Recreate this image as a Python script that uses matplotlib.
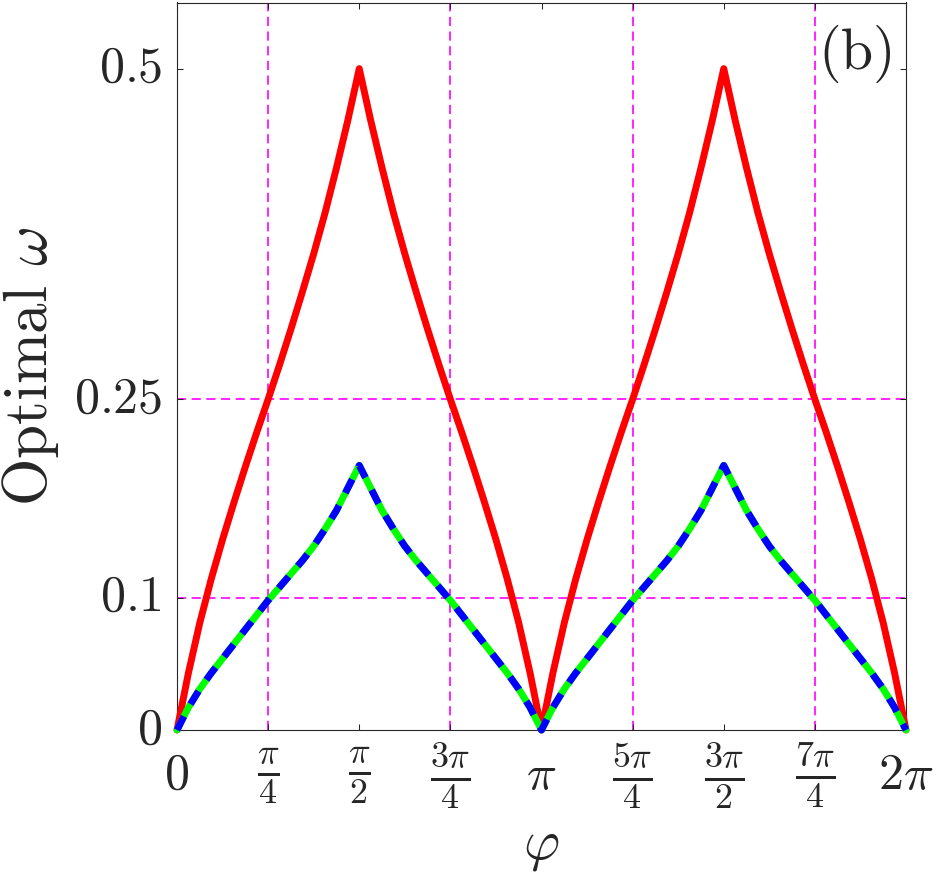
import numpy as np
import matplotlib
matplotlib.use("Agg")
import matplotlib.pyplot as plt
from matplotlib.transforms import ScaledTranslation

plt.rcParams['mathtext.fontset'] = 'cm'
plt.rcParams['font.family'] = 'serif'
plt.rcParams['font.serif'] = ['cmr10']
plt.rcParams['axes.unicode_minus'] = False
plt.rcParams['axes.formatter.use_mathtext'] = True

phi = np.linspace(0, 2 * np.pi, 65)

omega_red = [
    0.000, 0.043, 0.081, 0.114, 0.144, 0.172, 0.199, 0.225, 0.250, 0.276, 0.303, 0.331, 0.360, 0.391, 0.425, 0.461, 0.500,
    0.461, 0.425, 0.391, 0.360, 0.331, 0.303, 0.276, 0.250, 0.225, 0.199, 0.172, 0.144, 0.114, 0.081, 0.043, 0.000,
    0.043, 0.081, 0.114, 0.144, 0.172, 0.199, 0.225, 0.250, 0.276, 0.303, 0.331, 0.360, 0.391, 0.425, 0.461, 0.500,
    0.461, 0.425, 0.391, 0.360, 0.331, 0.303, 0.276, 0.250, 0.225, 0.199, 0.172, 0.144, 0.114, 0.081, 0.043, 0.000,
]

omega_blue = [
    0.000, 0.017, 0.031, 0.043, 0.054, 0.065, 0.076, 0.087, 0.098, 0.108, 0.118, 0.128, 0.139, 0.152, 0.166, 0.183, 0.200,
    0.183, 0.166, 0.152, 0.139, 0.128, 0.118, 0.108, 0.098, 0.087, 0.076, 0.065, 0.054, 0.043, 0.031, 0.017, 0.000,
    0.017, 0.031, 0.043, 0.054, 0.065, 0.076, 0.087, 0.098, 0.108, 0.118, 0.128, 0.139, 0.152, 0.166, 0.183, 0.200,
    0.183, 0.166, 0.152, 0.139, 0.128, 0.118, 0.108, 0.098, 0.087, 0.076, 0.065, 0.054, 0.043, 0.031, 0.017, 0.000,
]
omega_green = omega_blue

ref_phi = [np.pi / 4, 3 * np.pi / 4, 5 * np.pi / 4, 7 * np.pi / 4]
ref_omega = [0.1, 0.25]

xtick_vals = [k * np.pi / 4 for k in range(9)]
xtick_labels = [r'$0$', r'$\frac{\pi}{4}$', r'$\frac{\pi}{2}$', r'$\frac{3\pi}{4}$', r'$\pi$',
                r'$\frac{5\pi}{4}$', r'$\frac{3\pi}{2}$', r'$\frac{7\pi}{4}$', r'$2\pi$']
ytick_vals = [0, 0.1, 0.25, 0.5]
ytick_labels = [r'$0$', r'$0.1$', r'$0.25$', r'$0.5$']

# ---- figure ----
W, H = 936, 875
fig = plt.figure(figsize=(W / 100, H / 100), dpi=100)
ax = fig.add_axes([177 / W, 1 - 730 / H, (906 - 177) / W, (730 - 2.5) / H])

axis_col = '#262626'
mag = '#FF00FF'
for v in ref_phi:
    ax.axvline(v, color=mag, lw=1.2, ls=(0, (5.5, 3.3)), zorder=1)
for h in ref_omega:
    ax.axhline(h, color=mag, lw=1.2, ls=(0, (5.5, 3.3)), zorder=1)

ax.plot(phi, omega_red, color='#FF0000', lw=5, solid_capstyle='round',
        solid_joinstyle='round', zorder=3, clip_on=False)
ax.plot(phi, omega_green, color='#00FF00', lw=5, solid_capstyle='round',
        solid_joinstyle='round', zorder=4, clip_on=False)
ax.plot(phi, omega_blue, color='#0000FF', lw=5, ls=(0, (2.2, 2.0)),
        dash_capstyle='butt', dash_joinstyle='round', zorder=5, clip_on=False)

ax.set_xlim(0, 2 * np.pi)
ax.set_ylim(0, 0.55)

ax.set_xticks(xtick_vals)
ax.set_xticklabels(xtick_labels)
ax.set_yticks(ytick_vals)
ax.set_yticklabels(ytick_labels)

for s in ax.spines.values():
    s.set_color(axis_col)
    s.set_linewidth(0.8)

ax.tick_params(axis='both', which='both', direction='in', length=4.5, width=0.75,
               colors=axis_col, top=True, right=True)
ax.tick_params(axis='x', pad=33, labelsize=36, labelcolor='#262626')
ax.tick_params(axis='y', pad=10.8, labelsize=36, labelcolor='#262626')

for lab in ax.get_xticklabels():
    lab.set_va('center')
    if 'frac' in lab.get_text():
        lab.set_fontsize(37)

off = ScaledTranslation(0, 4.5 / 100, fig.dpi_scale_trans)
for lab in ax.get_yticklabels():
    lab.set_transform(lab.get_transform() + off)

ax.set_xlabel(r'$\varphi$', fontsize=40, color='#262626', va='center')
ax.xaxis.set_label_coords(0.5, (730 - 848) / 727.5)
ax.set_ylabel(r'Optimal $\omega$', fontsize=44, color='#262626', va='center')
ax.yaxis.set_label_coords((30.5 - 177) / 729, 0.5)

ax.text(0.880, 0.909, '(b)', transform=ax.transAxes, fontsize=42,
        ha='left', va='baseline', color='#262626', family='cmr10')

fig.savefig('out.png', dpi=100)
